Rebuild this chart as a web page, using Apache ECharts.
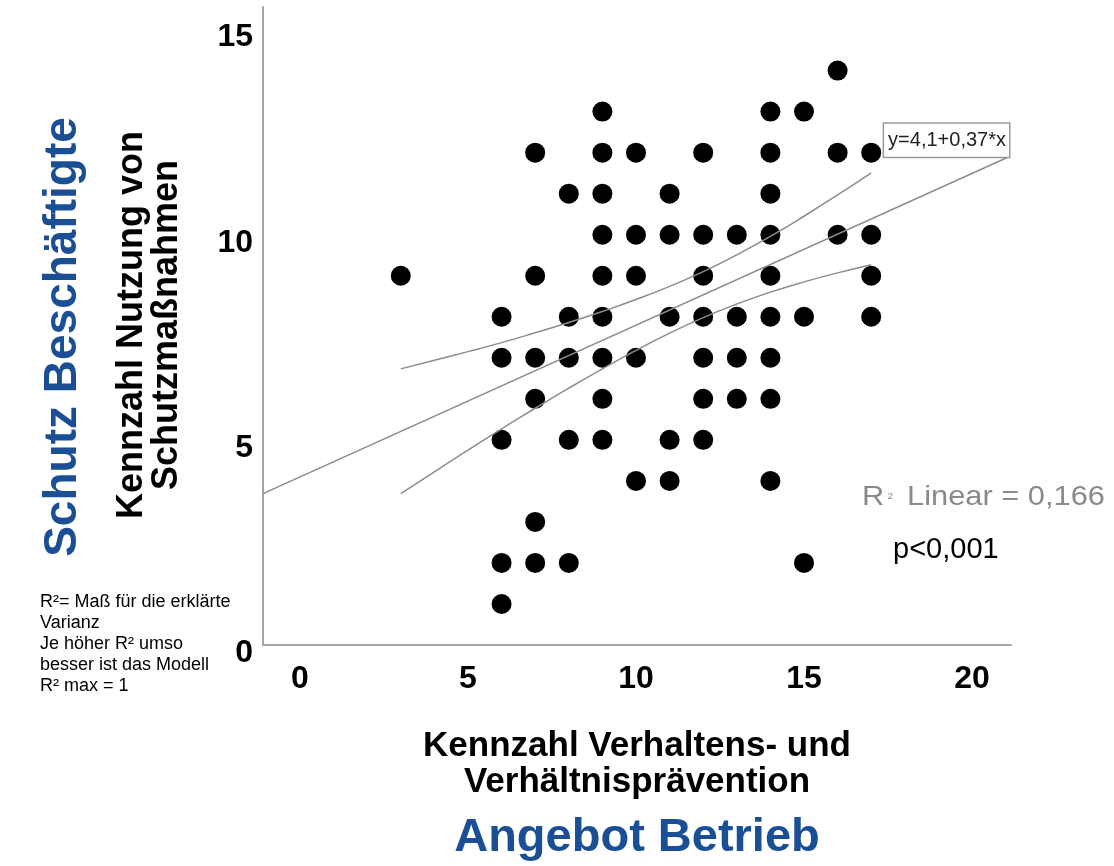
<!DOCTYPE html>
<html>
<head>
<meta charset="utf-8">
<script src="https://cdn.jsdelivr.net/npm/echarts@6/dist/echarts.min.js"></script>
<style>
html,body{margin:0;padding:0;background:#fff;}
#chart{width:1114px;height:866px;}
</style>
</head>
<body>
<div id="chart"></div>
<script>
// ---- data ----
const pointsX = [16, 9,14,15, 7,9,10,12,14,16,17, 8,9,11,14, 9,10,11,12,13,14,16,17,
  3,7,9,10,12,14,17, 6,8,9,11,12,13,14,15,17, 6,7,8,9,10,12,13,14,
  7,9,12,13,14, 6,8,9,11,12, 10,11,14, 7, 6,7,8,15, 6];
const pointsY = [14, 13,13,13, 12,12,12,12,12,12,12, 11,11,11,11, 10,10,10,10,10,10,10,10,
  9,9,9,9,9,9,9, 8,8,8,8,8,8,8,8,8, 7,7,7,7,7,7,7,7,
  6,6,6,6,6, 5,5,5,5,5, 4,4,4, 3, 2,2,2,2, 1];
const fitLineX = [-1.1, 21.1];
const fitLineY = [3.69, 11.9];
const ciX = [3,4,5,6,7,8,9,10,11,12,13,14,15,16,17];
const ciUpper = [6.73,6.94,7.15,7.37,7.61,7.86,8.13,8.42,8.74,9.10,9.51,9.96,10.45,10.97,11.51];
const ciLower = [3.69,4.22,4.75,5.27,5.77,6.26,6.73,7.18,7.60,7.98,8.31,8.60,8.85,9.07,9.27];
const xTicks = [0,5,10,15,20];
const yTicks = [0,5,10,15];
const equationText = 'y=4,1+0,37*x';
const r2Text = '0,166';
const pText = 'p<0,001';

const FONT = '"Liberation Sans", Arial, sans-serif';
const BLUE = '#1a4f95';

const chart = echarts.init(document.getElementById('chart'), null, {renderer:'canvas'});

const scatterData = pointsX.map((x,i)=>[x, pointsY[i]]);
const fitData = fitLineX.map((x,i)=>[x, fitLineY[i]]);
const upData = ciX.map((x,i)=>[x, ciUpper[i]]);
const loData = ciX.map((x,i)=>[x, ciLower[i]]);

const option = {
  backgroundColor:'#fff',
  animation:false,
  grid:{left:263, top:7, right:103, bottom:221, containLabel:false},
  xAxis:{
    type:'value', min:-1.1, max:21.16,
    splitLine:{show:false},
    axisLine:{show:true, onZero:false, lineStyle:{color:'#a6a6a6', width:2}},
    axisTick:{show:false},
    axisLabel:{customValues:xTicks, showMinLabel:true, showMaxLabel:true, color:'#000', fontSize:32, fontWeight:'bold', fontFamily:FONT, margin:18}
  },
  yAxis:{
    type:'value', min:0, max:15.55,
    splitLine:{show:false},
    axisLine:{show:true, onZero:false, lineStyle:{color:'#a6a6a6', width:2}},
    axisTick:{show:false},
    axisLabel:{customValues:yTicks, margin:10,
      formatter:'{a|{value}}',
      rich:{a:{color:'#000', fontSize:32, fontWeight:'bold', fontFamily:FONT, padding:[16,0,0,0]}}}
  },
  series:[
    {type:'scatter', data:scatterData, symbol:'circle', symbolSize:20, itemStyle:{color:'#000', opacity:1}, z:2},
    {type:'line', data:fitData, symbol:'none', lineStyle:{color:'#8c8c8c', width:1.5}, z:3},
    {type:'line', data:upData, smooth:0.5, symbol:'none', lineStyle:{color:'#8c8c8c', width:1.5}, z:3},
    {type:'line', data:loData, smooth:0.5, symbol:'none', lineStyle:{color:'#8c8c8c', width:1.5}, z:3}
  ]
};
chart.setOption(option);

const endPx = chart.convertToPixel({gridIndex:0}, fitData[fitData.length-1]);

chart.setOption({
  graphic:[
    {type:'text', x:63, y:337, rotation:Math.PI/2,
     style:{text:'Schutz Beschäftigte', fill:BLUE, font:'bold 46px '+FONT, textAlign:'center', textVerticalAlign:'middle'}},
    {type:'text', x:150, y:325, rotation:Math.PI/2,
     style:{text:'Kennzahl Nutzung von\nSchutzmaßnahmen', fill:'#000', font:'bold 36px '+FONT, lineHeight:35, textAlign:'center', textVerticalAlign:'middle'}},
    {type:'text', x:637, y:764, 
     style:{text:'Kennzahl Verhaltens- und\nVerhältnisprävention', fill:'#000', font:'bold 35px '+FONT, lineHeight:36, textAlign:'center', textVerticalAlign:'middle'}},
    {type:'text', x:637, y:838,
     style:{text:'Angebot Betrieb', fill:BLUE, font:'bold 47px '+FONT, textAlign:'center', textVerticalAlign:'middle'}},
    {type:'text', x:40, y:592,
     style:{text:'R²= Maß für die erklärte\nVarianz\nJe höher R² umso\nbesser ist das Modell\nR² max = 1', fill:'#000', font:'18px '+FONT, lineHeight:21, textAlign:'left', textVerticalAlign:'top'}},
    {type:'text', x:862, y:497, scaleX:1.1,
     style:{text:'{r|R}{s|2}{r| Linear = '+r2Text+'}', textAlign:'left', textVerticalAlign:'middle',
       rich:{r:{fill:'#8a8a8a', font:'28px '+FONT}, s:{fill:'#8a8a8a', font:'9px '+FONT, padding:[0,5,0,3]}}}},
    {type:'text', x:893, y:550,
     style:{text:pText, fill:'#000', font:'29px '+FONT, textAlign:'left', textVerticalAlign:'middle'}},
    {type:'text', x:endPx[0], y:endPx[1], z:10,
     style:{text:equationText, fill:'#222', font:'20px '+FONT, textAlign:'right', textVerticalAlign:'bottom',
       backgroundColor:'#fff', borderColor:'#999', borderWidth:1.5, padding:[7,3,6,4]}}
  ]
});
</script>
</body>
</html>
